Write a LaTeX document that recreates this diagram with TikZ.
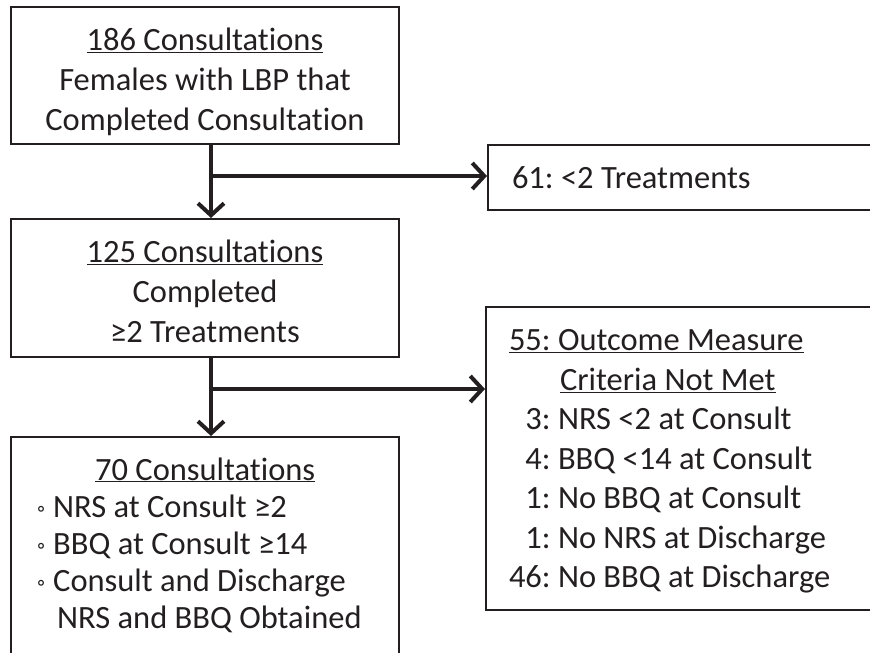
\documentclass[tikz,border=0pt]{standalone}
\usepackage{fontspec}
\setmainfont{Carlito}[Ligatures=NoCommon]
\usetikzlibrary{arrows.meta,positioning,calc,fit}
\definecolor{ink}{RGB}{35,31,32}
\newcommand{\topgap}[1]{\rule{0pt}{#1}}
\newcommand{\wbul}{\makebox[16pt][l]{\raisebox{1pt}{\scalebox{0.7}{◦}}}}

\begin{document}
\begin{tikzpicture}[x=1pt, y=-1pt, ink,
    every node/.style={font=\fontsize{32.5}{40}\selectfont\frenchspacing, text=ink},
    box/.style={rectangle, draw=ink, line width=2pt, inner sep=0pt},
    flow/.style={line width=4pt, -{Straight Barb[length=12pt, width=26pt]}}]
  \useasboundingbox (0,0) rectangle (870,653);
  \clip (0,0) rectangle (870,653);

  \node[box, minimum width=388pt, minimum height=137pt, align=center] (c186) at (205,75.5)
    {\topgap{35pt}\underline{186 Consultations}\\Females with LBP that\\Completed Consultation};
  \node[box, minimum width=388pt, minimum height=138pt, align=center] (c125) at (205,288)
    {\topgap{30pt}\underline{125 Consultations}\\Completed\\≥2 Treatments};

  \node[box, anchor=north west, minimum height=65pt, text width=372pt, inner xsep=24pt, align=flush left] (c61) at (487,144)
    {61: <2 Treatments};
  \node[box, anchor=north west, minimum height=303pt, text width=374pt, inner xsep=23pt, align=flush left,
        font=\fontsize{32.5}{39.5}\selectfont\frenchspacing] (c55) at (485,306)
    {\topgap{27pt}\underline{55: Outcome Measure}\\
     \hspace*{51pt}\underline{Criteria Not Met}\\
     \hphantom{4}3: NRS <2 at Consult\\
     \hphantom{4}4: BBQ <14 at Consult\\
     \hphantom{4}1: No BBQ at Consult\\
     \hphantom{4}1: No NRS at Discharge\\
     46: No BBQ at Discharge};

  \coordinate (c70nw) at (11,437);
  \coordinate (c70se) at (399,720);
  \node[box, fit=(c70nw)(c70se)] (c70box) {};
  \node[anchor=base west, text width=336pt, inner sep=0pt, align=flush left, font=\fontsize{32.5}{37}\selectfont] (c70) at (37,480)
    {\makebox[\linewidth]{\underline{70 Consultations}}\\
     \wbul NRS at Consult ≥2\\
     \wbul BBQ at Consult ≥14\\
     \wbul Consult and Discharge\\
     \hspace*{20pt}NRS and BBQ Obtained};

  \coordinate (j1) at ([xshift=6pt, yshift=-31pt]c186.south);
  \coordinate (j2) at ([xshift=6pt, yshift=-31pt]c125.south);
  \draw[flow] ([xshift=6pt]c186.south) -- ([xshift=6pt]c125.north);
  \draw[flow] (j1) -- (j1 -| c61.west);
  \draw[flow] ([xshift=6pt]c125.south) -- ([xshift=6pt]c70box.north);
  \draw[flow] (j2) -- (j2 -| c55.west);
\end{tikzpicture}
\end{document}
